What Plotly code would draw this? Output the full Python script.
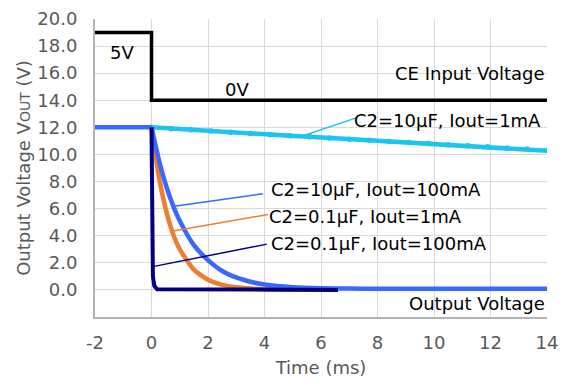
import plotly.graph_objects as go

FONT = "DejaVu Sans"

# ---- data ----
ce_t = [-2, 0, 0, 14]
ce_v = [19, 19, 14, 14]

lb_t = [0, 0.7, 1.4, 2.1, 2.8, 3.5, 4.2, 4.9, 5.6, 6.3, 7.0, 7.7, 8.4, 9.1, 9.8, 10.5, 11.2, 11.9, 12.6, 13.3, 14.0]
lb_v = [12.0, 11.9, 11.82, 11.73, 11.64, 11.55, 11.46, 11.38, 11.3, 11.21, 11.13, 11.04, 10.96, 10.88, 10.8, 10.72, 10.64, 10.56, 10.48, 10.4, 10.27]

bl_t = [-2, 0, 0.25, 0.5, 0.75, 1.0, 1.5, 2.0, 2.5, 3.0, 3.5, 4.0, 5.0, 6.0, 7.0, 8.0, 10.0, 12.0, 14.0]
bl_v = [12, 12, 9.7, 7.8, 6.3, 5.1, 3.3, 2.2, 1.4, 0.92, 0.6, 0.4, 0.2, 0.12, 0.1, 0.09, 0.08, 0.08, 0.08]

or_t = [0, 0.25, 0.5, 0.75, 1.0, 1.5, 2.0, 2.5, 3.0, 3.5, 4.0, 5.0, 6.6]
or_v = [12, 8.5, 6.0, 4.2, 3.0, 1.5, 0.75, 0.37, 0.19, 0.1, 0.05, 0.03, 0.02]

nv_t = [0, 0.02, 0.05, 0.1, 0.2, 6.6]
nv_v = [12, 4.0, 1.0, 0.3, 0.05, 0.0]

x_ticks = [-2, 0, 2, 4, 6, 8, 10, 12, 14]
y_ticks = [0, 2, 4, 6, 8, 10, 12, 14, 16, 18, 20]

C_LB = "#1CC4F2"
C_BL = "#3A68FF"
C_OR = "#EE7D31"
C_NV = "#000080"

fig = go.Figure()
fig.add_trace(go.Scatter(x=ce_t, y=ce_v, mode="lines", line=dict(color="black", width=3.5)))
fig.add_trace(go.Scatter(x=lb_t, y=lb_v, mode="lines+markers", line=dict(color=C_LB, width=4.5),
                         marker=dict(color=C_LB, size=5.5)))
fig.add_trace(go.Scatter(x=or_t, y=or_v, mode="lines",
                         line=dict(color=C_OR, width=4.5, shape="spline", smoothing=0.6)))
# blue: flat part before the step (straight), decay after it (smoothed)
fig.add_trace(go.Scatter(x=bl_t[:2], y=bl_v[:2], mode="lines",
                         line=dict(color=C_BL, width=4.5)))
fig.add_trace(go.Scatter(x=bl_t[1:], y=bl_v[1:], mode="lines",
                         line=dict(color=C_BL, width=4.5, shape="spline", smoothing=0.6)))
fig.add_trace(go.Scatter(x=nv_t, y=nv_v, mode="lines", line=dict(color=C_NV, width=4)))

# leader lines
leaders = [
    (5.32, 11.34, 7.27, 12.72, C_LB),
    (0.75, 6.15, 3.94, 7.1, C_BL),
    (0.72, 4.33, 4.12, 5.57, C_OR),
    (0.0, 1.7, 4.08, 3.38, C_NV),
]
for x0, y0, x1, y1, c in leaders:
    fig.add_shape(type="line", x0=x0, y0=y0, x1=x1, y1=y1, xref="x", yref="y",
                  line=dict(color=c, width=1.5))

labels = [
    ("5V", -1.05, 17.54, "center"),
    ("0V", 3.02, 14.77, "center"),
    ("CE Input Voltage", 13.95, 16.0, "right"),
    ("C2=10µF, Iout=1mA", 7.15, 12.5, "left"),
    ("C2=10µF, Iout=100mA", 4.2, 7.4, "left"),
    ("C2=0.1µF, Iout=1mA", 4.13, 5.42, "left"),
    ("C2=0.1µF, Iout=100mA", 4.2, 3.45, "left"),
    ("Output Voltage", 13.95, -1.0, "right"),
]
for txt, x, y, anc in labels:
    fig.add_annotation(text=txt, x=x, y=y, xref="x", yref="y", showarrow=False,
                       xanchor=anc, yanchor="middle", borderpad=0,
                       font=dict(family=FONT, size=18, color="black"))

# page body adds an 8px offset, so the figure is slightly smaller and margins compensate
fig.update_layout(
    width=563, height=379,
    margin=dict(l=87, r=24, t=11, b=70, autoexpand=False),
    paper_bgcolor="white", plot_bgcolor="white",
    showlegend=False,
    font=dict(family=FONT, size=18, color="#595959"),
)
fig.update_xaxes(
    range=[-2, 14], tickvals=x_ticks, ticktext=[str(v) for v in x_ticks],
    showgrid=True, gridcolor="#D9D9D9", gridwidth=1,
    showline=True, linecolor="#B3B3B3", linewidth=2,
    zeroline=False, ticks="", ticklabelstandoff=8, automargin=False,
    ticklabeloverflow="allow",
    title=dict(text="Time (ms)", font=dict(family=FONT, size=18, color="#595959"), standoff=10),
)
fig.update_yaxes(
    range=[-2, 20], tickvals=y_ticks, ticktext=[f"{v:.1f}" for v in y_ticks],
    showgrid=True, gridcolor="#D9D9D9", gridwidth=1,
    showline=True, linecolor="#B3B3B3", linewidth=2,
    zeroline=False, ticks="", ticklabelstandoff=12, automargin=False,
    ticklabeloverflow="allow",
    title=dict(text="Output Voltage V<span style='font-size:14px'>OUT</span> (V)",
               font=dict(family=FONT, size=18, color="#595959"), standoff=2),
)

fig.write_html("out.html")
